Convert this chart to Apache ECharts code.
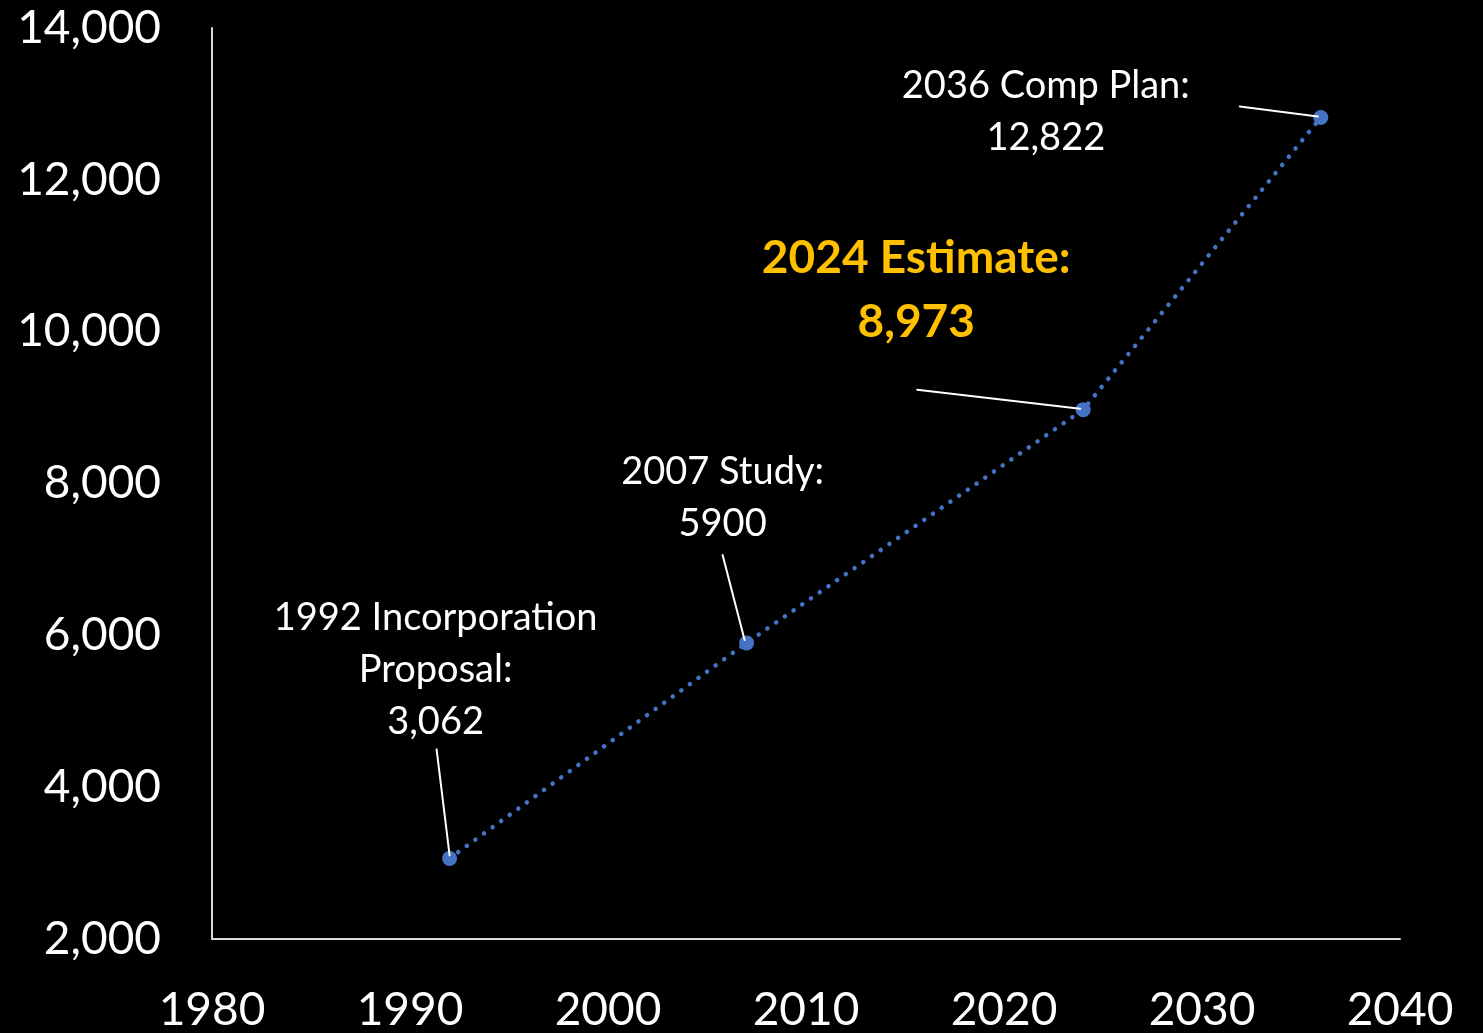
<!DOCTYPE html>
<html>
<head>
<meta charset="utf-8">
<script src="https://cdn.jsdelivr.net/npm/echarts@6/dist/echarts.min.js"></script>
<style>
html,body{margin:0;padding:0;background:#000;overflow:hidden;width:1483px;height:1033px;}
#chart{width:1483px;height:1033px;}
</style>
</head>
<body>
<div id="chart"></div>
<script>
// ---- data ----
var years = [1992, 2007, 2024, 2036];
var populations = [3062, 5900, 8973, 12822];
var pointLabels = [
  '1992 Incorporation\nProposal:\n3,062',
  '2007 Study:\n5900',
  '2024 Estimate:\n8,973',
  '2036 Comp Plan:\n12,822'
];
var xTicks = { min: 1980, max: 2040, step: 10 };
var yTicks = { min: 2000, max: 14000, step: 2000 };

// ---- label placement (pixel offsets from each point) ----
var labelPlacement = [
  { cx: -14,  cy: -189, lx: -13,  ly: -109, ex: 0, ey: -3 },
  { cx: -24,  cy: -145, lx: -24,  ly: -88,  ex: -2, ey: -3 },
  { cx: -167, cy: -119, lx: -166, ly: -20,  ex: -3, ey: -1 },
  { cx: -275, cy: -6,   lx: -81,  ly: -11,  ex: -3, ey: -1 }
];

var FONT = 'Lato';
var chart = echarts.init(document.getElementById('chart'), null, { width: 1483, height: 1033 });

var pts = years.map(function (y, i) { return [y, populations[i]]; });

var scatterData = pts.map(function (p, i) {
  var item = { value: p };
  if (i === 2) {
    item.label = {
      formatter: pointLabels[i].split('\n').map(function (s) { return '{h|' + s + '}'; }).join('\n'),
      rich: { h: { color: '#FFC000', fontWeight: 'bold', fontSize: 46, lineHeight: 64, fontFamily: FONT } }
    };
  } else {
    item.label = { formatter: pointLabels[i] };
  }
  return item;
});

chart.setOption({
  backgroundColor: '#000000',
  animation: false,
  grid: { left: 212, right: 83, top: 28, bottom: 91, containLabel: false },
  xAxis: {
    type: 'value', min: xTicks.min, max: xTicks.max, interval: xTicks.step,
    axisLine: { show: true, lineStyle: { color: '#d9d9d9', width: 2 } },
    axisTick: { show: false },
    splitLine: { show: false },
    axisLabel: {
      color: '#ffffff', fontSize: 46, fontFamily: FONT, margin: 48,
      showMinLabel: true, showMaxLabel: true,
      formatter: function (v) { return String(v); }
    }
  },
  yAxis: {
    type: 'value', min: yTicks.min, max: yTicks.max, interval: yTicks.step,
    axisLine: { show: true, lineStyle: { color: '#d9d9d9', width: 2 } },
    axisTick: { show: false },
    splitLine: { show: false },
    axisLabel: {
      color: '#ffffff', fontSize: 46, fontFamily: FONT, margin: 51,
      formatter: function (v) { return v.toLocaleString('en-US'); }
    }
  },
  series: [
    {
      type: 'line',
      data: pts,
      symbol: 'none',
      silent: true,
      lineStyle: { color: '#4472C4', width: 4.5, type: [0.1, 10.5], cap: 'round' },
      z: 2
    },
    {
      type: 'scatter',
      data: scatterData,
      symbolSize: 15,
      itemStyle: { color: '#4472C4', opacity: 1 },
      z: 3,
      label: {
        show: true,
        position: 'top',
        color: '#ffffff',
        fontSize: 38,
        lineHeight: 52,
        fontFamily: FONT,
        align: 'center'
      },
      labelLayout: function (p) {
        var s = labelPlacement[p.dataIndex];
        var px = p.rect.x + p.rect.width / 2, py = p.rect.y + p.rect.height / 2;
        var lx = p.labelRect.x + p.labelRect.width / 2, ly = p.labelRect.y + p.labelRect.height / 2;
        return { dx: px + s.cx - lx, dy: py + s.cy - ly };
      }
    },
    {
      // leader lines from each label to its point
      type: 'custom',
      data: pts,
      z: 4,
      silent: true,
      renderItem: function (params, api) {
        var c = api.coord([api.value(0), api.value(1)]);
        var s = labelPlacement[params.dataIndex];
        return {
          type: 'line',
          shape: { x1: c[0] + s.lx, y1: c[1] + s.ly, x2: c[0] + s.ex, y2: c[1] + s.ey },
          style: { stroke: '#ffffff', lineWidth: 2, lineCap: 'round' }
        };
      }
    }
  ]
});
</script>
</body>
</html>
